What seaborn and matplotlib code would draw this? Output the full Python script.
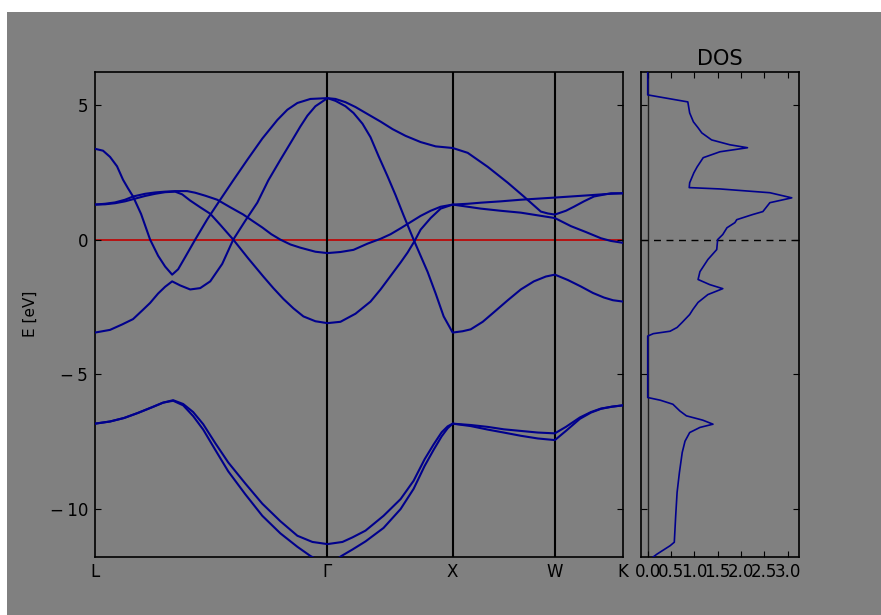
import numpy as np
import pandas as pd
import matplotlib
matplotlib.use("Agg")
import matplotlib.pyplot as plt
from matplotlib.patches import Rectangle
from matplotlib.ticker import FuncFormatter
import seaborn as sns

# ---------------- data ----------------
kpath_labels = ["L", "Γ", "X", "W", "K"]
kpath_pos = [0, 232, 357, 459, 527]

k_A = [0, 8, 15, 22, 28, 33, 38, 46, 55, 63, 70, 77, 83, 90, 100, 112, 125, 138, 152, 167, 182, 192, 202, 215, 232,
       240, 250, 260, 272, 285, 297, 310, 325, 340, 357,
       372, 392, 412, 428, 445, 452, 459,
       470, 478, 488, 498, 515, 527]
E_A = [3.37, 3.3, 3.07, 2.72, 2.22, 1.9, 1.6, 0.95, 0.0, -0.6, -1.0, -1.3, -1.1, -0.65, 0.0, 0.75, 1.48, 2.2, 2.96, 3.75,
       4.44, 4.82, 5.07, 5.22, 5.25,
       5.22, 5.1, 4.92, 4.66, 4.38, 4.1, 3.85, 3.62, 3.46, 3.4,
       3.22, 2.7, 2.11, 1.6, 1.04, 0.97, 0.93,
       1.07, 1.22, 1.42, 1.6, 1.72, 1.72]

k_B = [0, 15, 27, 38, 48, 55, 63, 70, 77, 85, 95, 105, 115, 127, 138, 150, 162, 173, 185, 197, 205, 212, 220, 232,
       240, 250, 258, 267, 275, 283, 292, 300, 308, 318, 325, 332, 340, 348, 357,
       367, 375, 387, 398, 412, 425, 438, 450, 459,
       472, 485, 497, 508, 517, 527]
E_B = [-3.45, -3.35, -3.15, -2.95, -2.6, -2.35, -2.0, -1.75, -1.55, -1.7, -1.85, -1.8, -1.55, -0.9, 0.0, 0.7, 1.37,
       2.2, 2.96, 3.7, 4.2, 4.6, 4.95, 5.25,
       5.15, 4.95, 4.7, 4.3, 3.8, 3.1, 2.35, 1.65, 0.9, 0.0, -0.6, -1.2, -2.0, -2.85, -3.45,
       -3.4, -3.33, -3.05, -2.7, -2.25, -1.85, -1.55, -1.37, -1.3,
       -1.5, -1.74, -1.98, -2.15, -2.25, -2.3]

k_C = [0, 10, 20, 30, 38, 50, 60, 70, 80, 92, 100, 110, 122, 135, 148, 157, 167, 176, 185, 195, 205, 220, 232,
       245, 258, 272, 285, 295, 305, 315, 325, 335, 345, 357,
       372, 385, 405, 425, 442, 459,
       467, 475, 490, 505, 515, 527]
E_C = [1.3, 1.33, 1.38, 1.48, 1.6, 1.7, 1.75, 1.78, 1.8, 1.8, 1.74, 1.63, 1.48, 1.2, 0.93, 0.7, 0.45, 0.2, 0.0,
       -0.18, -0.3, -0.45, -0.5,
       -0.46, -0.38, -0.15, 0.03, 0.2, 0.42, 0.65, 0.88, 1.07, 1.22, 1.3,
       1.22, 1.15, 1.07, 1.0, 0.9, 0.8,
       0.65, 0.5, 0.28, 0.05, -0.05, -0.12]

k_D = [0, 10, 20, 30, 38, 50, 60, 70, 80, 87, 95, 105, 115, 125, 138, 153, 168, 178, 188, 198, 208, 220, 232,
       245, 260, 275, 285, 295, 305, 312, 319, 325, 335, 345, 357,
       372, 385, 405, 425, 442, 459,
       475, 495, 510, 527]
E_D = [1.3, 1.31, 1.35, 1.42, 1.5, 1.62, 1.7, 1.76, 1.78, 1.68, 1.45, 1.2, 0.96, 0.55, 0.0, -0.7, -1.37, -1.8, -2.2,
       -2.55, -2.85, -3.03, -3.1,
       -3.05, -2.75, -2.3, -1.85, -1.35, -0.85, -0.48, -0.05, 0.37, 0.8, 1.15, 1.3,
       1.33, 1.37, 1.42, 1.48, 1.52, 1.56,
       1.6, 1.65, 1.69, 1.72]

k_E1 = [0, 15, 29, 43, 57, 68, 78, 88, 98, 108, 120, 133, 150, 167, 185, 202, 217, 232,
        247, 257, 270, 288, 305, 318, 329, 338, 346, 352, 357,
        375, 392, 408, 425, 442, 459,
        470, 484, 495, 505, 516, 527]
E_E1 = [-6.83, -6.75, -6.62, -6.43, -6.22, -6.05, -5.96, -6.1, -6.4, -6.85, -7.55, -8.27, -9.05, -9.8, -10.45,
        -10.99, -11.22, -11.3,
        -11.22, -11.05, -10.8, -10.25, -9.63, -8.95, -8.15, -7.6, -7.15, -6.93, -6.83,
        -6.88, -6.95, -7.04, -7.1, -7.16, -7.19,
        -6.95, -6.6, -6.4, -6.27, -6.2, -6.15]

k_E2 = [0, 15, 29, 43, 57, 68, 78, 88, 98, 108, 120, 133, 150, 167, 185, 202, 215, 223, 232,
        240, 246, 257, 270, 288, 305, 318, 329, 338, 346, 352, 357,
        375, 392, 408, 425, 442, 459,
        470, 484, 495, 505, 516, 527]
E_E2 = [-6.83, -6.75, -6.62, -6.43, -6.22, -6.05, -5.98, -6.15, -6.55, -7.05, -7.8, -8.6, -9.45, -10.25, -10.9,
        -11.4, -11.74, -11.9, -12.0,
        -11.9, -11.74, -11.5, -11.2, -10.7, -10.0, -9.25, -8.4, -7.8, -7.3, -7.0, -6.83,
        -6.92, -7.05, -7.16, -7.28, -7.38, -7.44,
        -7.1, -6.65, -6.42, -6.28, -6.2, -6.15]

dos_val = [0, 0, 0.86, 0.9, 0.98, 1.08, 1.16, 1.37, 1.76, 2.14, 1.55, 1.19, 1.06, 0.99, 0.9, 0.89, 1.55, 2.62,
           3.09, 2.62, 2.47, 2.25, 1.91, 1.87, 1.70, 1.61, 1.5, 1.48, 1.29, 1.12, 1.08, 1.33, 1.61, 1.29, 1.08,
           0.97, 0.9, 0.74, 0.63, 0.48, 0.12, 0, 0, 0.27, 0.54, 0.69, 0.83, 1.18, 1.4, 1.12, 0.9, 0.8, 0.74,
           0.68, 0.63, 0.6, 0.57, 0.48, 0.2, 0.1, 0]
dos_E = [6.5, 5.37, 5.11, 4.7, 4.37, 4.15, 3.96, 3.7, 3.52, 3.41, 3.26, 3.04, 2.7, 2.48, 2.11, 1.93, 1.88, 1.74,
         1.55, 1.37, 1.04, 0.93, 0.74, 0.63, 0.44, 0.19, 0.0, -0.37, -0.74, -1.19, -1.48, -1.67, -1.82, -2.04,
         -2.33, -2.59, -2.78, -3.07, -3.26, -3.4, -3.49, -3.58, -5.86, -5.96, -6.11, -6.36, -6.54, -6.7, -6.85,
         -6.97, -7.16, -7.48, -7.9, -8.64, -9.38, -10.25, -11.23, -11.36, -11.67, -11.8, -12.0]

dos_ticks = [0.0, 0.5, 1.0, 1.5, 2.0, 2.5, 3.0]
e_ticks = [5, 0, -5, -10]

# ---------------- style ----------------
GREY = "#808080"
BAND = "#00008c"
plt.rcParams.update({
    "font.family": ["DejaVu Sans"],
    "xtick.direction": "in", "ytick.direction": "in",
    "xtick.top": True, "ytick.right": True,
    "xtick.major.size": 4, "ytick.major.size": 4,
    "axes.linewidth": 1.2,
    "axes.edgecolor": "black",
})

fig = plt.figure(figsize=(8.81, 6.15), dpi=100, facecolor="white")
fig.patches.append(Rectangle((7 / 881, 0), 1 - 7 / 881, 1 - 12 / 615, transform=fig.transFigure,
                             facecolor=GREY, edgecolor="none", zorder=-10))

ax = fig.add_axes([95 / 881, 1 - 556.5 / 615, 528 / 881, 484.5 / 615])
axd = fig.add_axes([640.5 / 881, 1 - 556.5 / 615, 158.5 / 881, 484.5 / 615])
for a in (ax, axd):
    a.set_facecolor(GREY)

bands = {"A": (k_A, E_A), "B": (k_B, E_B), "C": (k_C, E_C), "D": (k_D, E_D),
         "E1": (k_E1, E_E1), "E2": (k_E2, E_E2)}
df = pd.concat([pd.DataFrame({"k": k, "E": e, "band": name}) for name, (k, e) in bands.items()],
               ignore_index=True)

ax.axhline(0, color="#c00000", lw=1.2, zorder=1)
sns.lineplot(data=df, x="k", y="E", units="band", estimator=None, sort=False,
             color=BAND, lw=1.5, ax=ax, legend=False, zorder=3)
for p in kpath_pos[1:-1]:
    ax.axvline(p, color="black", lw=1.5, zorder=2)


def efmt(v, pos):
    v = int(round(v))
    return f"\u2212\u2009{abs(v)}" if v < 0 else f"{v}"


ax.set_xlim(kpath_pos[0], kpath_pos[-1])
ax.set_ylim(-11.76, 6.22)
ax.set_xticks(kpath_pos)
ax.set_xticklabels(kpath_labels)
ax.set_yticks(e_ticks)
ax.yaxis.set_major_formatter(FuncFormatter(efmt))
ax.tick_params(axis="both", labelsize=12, colors="black")
ax.tick_params(axis="x", pad=4.5, length=0)
ax.tick_params(axis="y", pad=5)
ax.set_xlabel("")
ax.set_ylabel("E [eV]", fontsize=11)
ax.yaxis.set_label_coords(-0.108, 0.5)

# DOS panel
dos_df = pd.DataFrame({"dos": dos_val, "E": dos_E})
axd.axvline(0, color="#202020", lw=1.0, zorder=1)
sns.lineplot(data=dos_df, x="dos", y="E", estimator=None, sort=False, color=BAND, lw=1.2,
             ax=axd, legend=False, zorder=3)
axd.axhline(0, color="black", lw=1.0, ls=(0, (5, 4)), zorder=2)
axd.set_xlim(-0.155, 3.245)
axd.set_ylim(-11.76, 6.22)
axd.set_xticks(dos_ticks)
axd.set_xticklabels([f"{v:.1f}" for v in dos_ticks])
axd.set_yticks(e_ticks)
axd.set_yticklabels([])
axd.tick_params(axis="both", labelsize=12, colors="black")
axd.tick_params(axis="x", pad=4.5)
axd.set_xlabel("")
axd.set_ylabel("")
axd.set_title("DOS", fontsize=15, pad=5)

fig.savefig("out.png", dpi=100, facecolor=fig.get_facecolor())
